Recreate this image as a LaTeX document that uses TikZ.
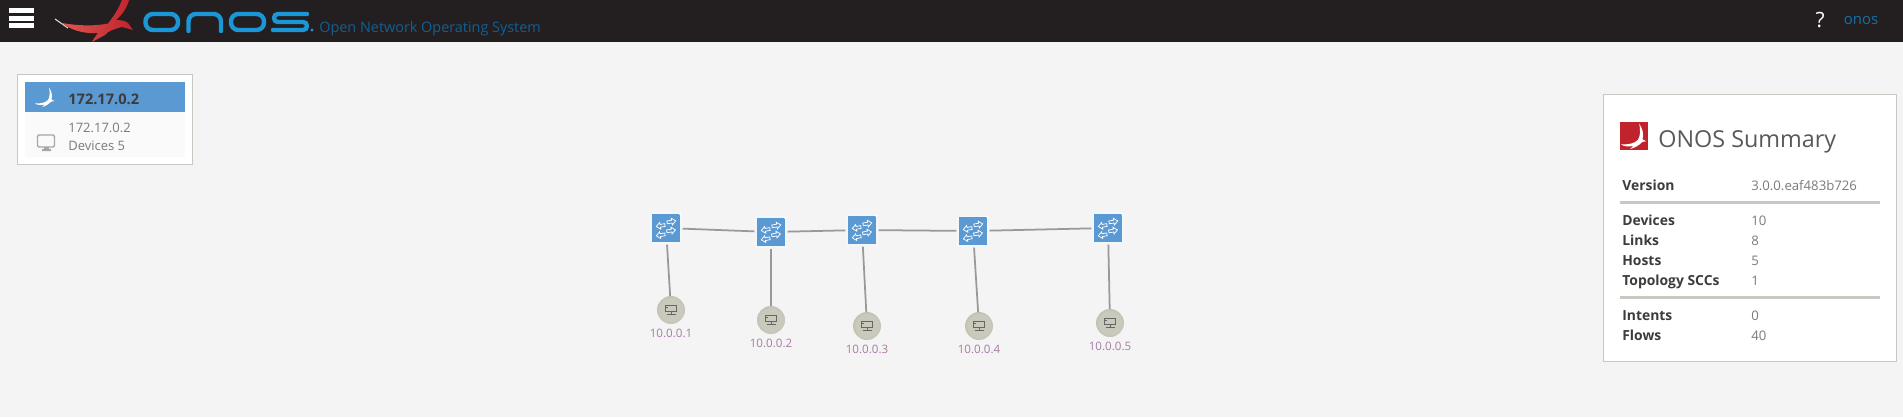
\documentclass[tikz,border=0pt]{standalone}
\usepackage{fontspec}
\setmainfont{Open Sans}
\usetikzlibrary{positioning, calc}

\definecolor{pagebg}{HTML}{F4F4F4}
\definecolor{barbg}{HTML}{231F20}
\definecolor{onosblue}{HTML}{5B99D2}
\definecolor{logoblue}{HTML}{1B96D6}
\definecolor{subblue}{HTML}{125F92}
\definecolor{panelline}{HTML}{C8C8C0}
\definecolor{keytext}{HTML}{3C3C3C}
\definecolor{valtext}{HTML}{7A7A80}
\definecolor{hostname}{HTML}{A87CA4}
\definecolor{linkgray}{HTML}{999999}
\definecolor{onosred}{HTML}{C0232B}
\definecolor{wingred}{HTML}{E05550}
\definecolor{hostinner}{HTML}{CACABC}
\definecolor{hostouter}{HTML}{9C9C8E}
\pgfdeclareradialshading{hostball}{\pgfpoint{0bp}{0bp}}{color(0bp)=(hostinner); color(20bp)=(hostinner); color(50bp)=(hostouter)}

\tikzset{
    switchicon/.pic={
        \fill[white] (12,-15) -- (15,-15) -- (15,-12) -- cycle;
        \foreach \ax/\ay/\ar in {5/-6.3/10, -5/-2.3/190, 4.7/2.7/10, -5/7/190}
            \draw[white, line width=0.42pt, line join=miter, shift={(\ax,\ay)}, rotate=\ar]
                (4.8,0) -- (0.8,-3.4) -- (0.8,-1.4) -- (-4,-1.4) -- (-4,1.4) -- (0.8,1.4) -- (0.8,3.4) -- cycle;
    },
    hosticon/.pic={
        \draw[black!60, line width=0.45pt] (-5.5,-4.5) rectangle (5.5,1.5);
        \draw[black!60, line width=0.45pt] (0,1.5) -- (0,4.8) (-4.5,4.8) -- (4.5,4.8);
        \fill[black!60] (-5,-3) rectangle (-3.2,-2.2);
    },
    birdicon/.pic={
        \fill[white] (-10,6.5) .. controls (-4,6.5) and (0,6) .. (3,3)
            .. controls (5,0) and (5,-5) .. (4,-9.5)
            .. controls (7,-5) and (7.5,-1) .. (6.5,2.5)
            -- (9.5,4) -- (6.5,4.5)
            .. controls (4,7) and (1,9) .. (-3,10)
            -- (-0.5,7.5) .. controls (-4,8.5) and (-8,8) .. (-10,6.5) -- cycle;
    }
}

\begin{document}
\begin{tikzpicture}[
    x=0.02cm, y=-0.02cm,
    switchnode/.style={rectangle, draw=white!92!onosblue, line width=0.6pt, fill=onosblue, minimum size=0.6cm, inner sep=0pt, outer sep=0.9pt},
    hostnode/.style={circle, shading=hostball, minimum size=0.56cm, inner sep=0pt, outer sep=0pt},
    hostlabel/.style={anchor=base, inner sep=0pt, text=hostname, font=\fontsize{6.6}{8}\selectfont},
    link/.style={draw=linkgray, line width=1pt},
    panel/.style={draw=panelline, line width=0.55pt, fill=white},
    sumkey/.style={anchor=base west, inner sep=0pt, text=keytext, font=\fontsize{7.9}{9.5}\selectfont\bfseries},
    sumval/.style={anchor=base west, inner sep=0pt, text=valtext, font=\fontsize{7.5}{9.5}\selectfont},
    sumrule/.style={draw=panelline, line width=1.7pt},
    logostroke/.style={draw=logoblue, line width=2.5pt, rounded corners=4.2pt, line cap=round}
]
\useasboundingbox (0,0) rectangle (1903,417);
\fill[pagebg] (0,0) rectangle (1903,417);

% Top bar
\fill[barbg] (0,0) rectangle (1903,42);
\fill[white] (9,8) rectangle (34,12.7);
\fill[white] (9,15.5) rectangle (34,20.5);
\fill[white] (9,23.3) rectangle (34,28);
\draw[white!75!gray, line width=0.6pt] (55,19) -- (68,28);
\shade[left color=wingred, right color=onosred]
    (62,23) .. controls (76,25.5) and (94,26.5) .. (108,23.5)
    .. controls (114,16) and (119,8) .. (122,0) -- (129,0)
    .. controls (127,8) and (122,15) .. (116,20)
    .. controls (121,20) and (126,21) .. (128,23) -- (133,30) -- (122,27)
    .. controls (114,29) and (108,31) .. (105,35) -- (92,42)
    .. controls (94,38) and (96,36) .. (98,33)
    .. controls (86,34) and (72,31) .. (62,23) -- cycle;
\draw[logostroke] (145.5,14) rectangle (178,30);
\draw[logostroke] (188.5,31) -- (188.5,14) -- (221,14) -- (221,31);
\draw[logostroke] (231,14) rectangle (264,30);
\draw[logostroke, rounded corners=2.2pt] (307,14) -- (274,14) -- (274,22) -- (307,22) -- (307,30) -- (273,30);
\fill[logoblue] (312,30) circle (1.7);
\node[anchor=base west, inner sep=0pt, text=subblue, font=\fontsize{8.2}{10}\selectfont] (tagline) at (319,32) {Open Network Operating System};
\node[anchor=base, inner sep=0pt, text=white, font=\fontsize{12}{14}\selectfont] (help) at (1820,27) {?};
\node[anchor=base, inner sep=0pt, text=subblue!70!logoblue, font=\fontsize{8.5}{10}\selectfont] (user) at (1861,24) {onos};

% Cluster panel
\draw[panel] (17.5,74.5) rectangle (192.5,164.5);
\fill[onosblue] (25,82) rectangle (185,112);
\fill[white!98!black] (25,112) rectangle (185,157);
\pic at (45,97) {birdicon};
\node[anchor=base west, inner sep=0pt, text=keytext, font=\fontsize{8.3}{10}\selectfont\bfseries] (clusterhead) at (68,104) {172.17.0.2};
\node[anchor=base west, inner sep=0pt, text=valtext, font=\fontsize{7.4}{9}\selectfont] (clusterip) at (68,132) {172.17.0.2};
\node[anchor=base west, inner sep=0pt, text=valtext, font=\fontsize{7.4}{9}\selectfont] (clusterdev) at (68,150) {Devices 5};
\draw[black!35, line width=0.8pt, rounded corners=0.8pt] (37.5,135) rectangle (54.5,147);
\fill[black!35] (44,147) rectangle (49,149) (42,149) rectangle (51,151);

% Switches
\node[switchnode] (s1) at (666,228) {};
\node[switchnode] (s2) at (771,232) {};
\node[switchnode] (s3) at (862,230) {};
\node[switchnode] (s4) at (973,231) {};
\node[switchnode] (s5) at (1108,228) {};
\foreach \s in {s1,s2,s3,s4,s5}
    \pic at (\s) {switchicon};

% Hosts
\node[hostnode] (h1) at (671,310) {};
\node[hostnode] (h2) at (771,320) {};
\node[hostnode] (h3) at (867,326) {};
\node[hostnode] (h4) at (979,326) {};
\node[hostnode] (h5) at (1110,323) {};
\foreach \h in {h1,h2,h3,h4,h5}
    \pic at (\h) {hosticon};
\node[hostlabel] (l1) at (671,337) {10.0.0.1};
\node[hostlabel] (l2) at (771,347) {10.0.0.2};
\node[hostlabel] (l3) at (867,353) {10.0.0.3};
\node[hostlabel] (l4) at (979,353) {10.0.0.4};
\node[hostlabel] (l5) at (1110,350) {10.0.0.5};

% Connections
\draw[link] (s1) -- (s2);
\draw[link] (s2) -- (s3);
\draw[link] (s3) -- (s4);
\draw[link] (s4) -- (s5);
\draw[link] (s1) -- (h1);
\draw[link] (s2) -- (h2);
\draw[link] (s3) -- (h3);
\draw[link] (s4) -- (h4);
\draw[link] (s5) -- (h5);

% Summary panel
\draw[panel] (1603.5,94.5) rectangle (1896,361.5);
\fill[onosred] (1620,122) rectangle (1648,150);
\pic[scale=1.3] at (1634,136) {birdicon};
\node[anchor=base west, inner sep=0pt, text=keytext!85!white, font=\fontsize{13.3}{16}\selectfont] (title) at (1658,147) {ONOS Summary};
\foreach \i/\y/\k/\v in {1/190/Version/3.0.0.eaf483b726, 2/225/Devices/10, 3/245/Links/8, 4/265/Hosts/5, 5/285/Topology SCCs/1, 6/320/Intents/0, 7/340/Flows/40} {
    \node[sumkey] (k\i) at (1622,\y) {\k};
    \node[sumval] (v\i) at (1751,\y) {\v};
}
\draw[sumrule] (1620,202.5) -- (1880,202.5);
\draw[sumrule] (1620,297.5) -- (1880,297.5);
\end{tikzpicture}
\end{document}
